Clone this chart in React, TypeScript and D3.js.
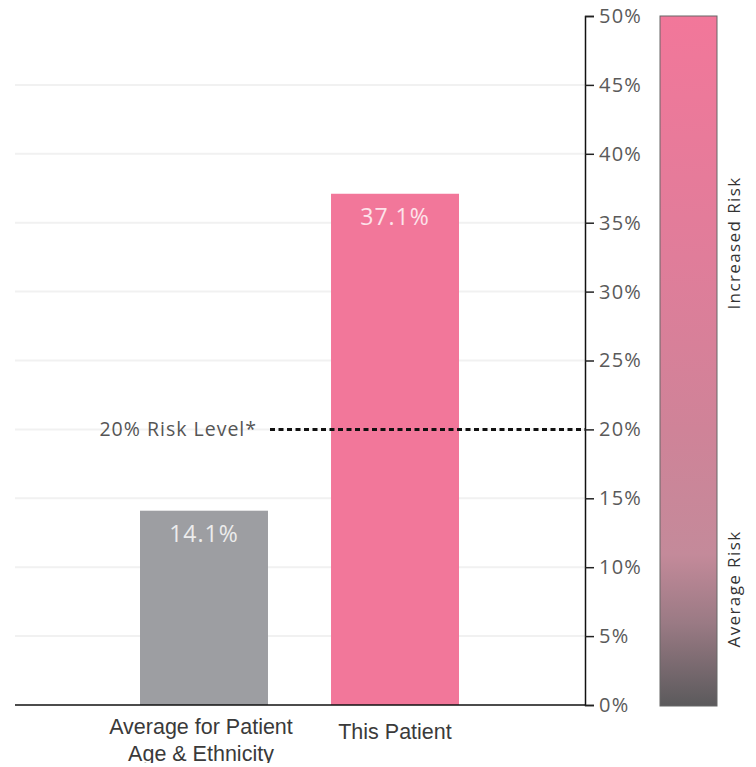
import React, { useRef, useEffect } from "react";
import * as d3 from "d3";

const categories = ["Average for Patient\nAge & Ethnicity", "This Patient"];
const values = [14.1, 37.1];
const valueLabels = ["14.1%", "37.1%"];
const barColors = ["#9d9ea2", "#f2779a"];
const yTicks = [0, 5, 10, 15, 20, 25, 30, 35, 40, 45, 50];
const riskLevel = 20;
const riskLabel = "20% Risk Level*";
const scaleLabels = ["Increased Risk", "Average Risk"];

const W = 756;
const H = 767;

export default function App() {
  const svgRef = useRef<SVGSVGElement>(null);

  useEffect(() => {
    const svg = d3.select(svgRef.current);
    svg.selectAll("*").remove();

    const plotLeft = 15;
    const axisX = 585;
    const y = d3.scaleLinear().domain([0, 50]).range([705, 16]);
    const x = d3
      .scaleBand()
      .domain(categories)
      .range([140, 459])
      .paddingInner(0.33)
      .paddingOuter(0);

    // gridlines
    svg
      .append("g")
      .selectAll("line")
      .data(yTicks.filter((t) => t > 0 && t < 50))
      .enter()
      .append("line")
      .attr("x1", plotLeft)
      .attr("x2", axisX)
      .attr("y1", (d) => y(d))
      .attr("y2", (d) => y(d))
      .attr("stroke", "#f1f1f1")
      .attr("stroke-width", 2);

    // bars
    svg
      .append("g")
      .selectAll("rect")
      .data(values)
      .enter()
      .append("rect")
      .attr("x", (_, i) => x(categories[i])!)
      .attr("width", x.bandwidth())
      .attr("y", (d) => y(d))
      .attr("height", (d) => y(0) - y(d))
      .attr("fill", (_, i) => barColors[i]);

    // value labels
    svg
      .append("g")
      .selectAll("text")
      .data(values)
      .enter()
      .append("text")
      .attr("x", (_, i) => x(categories[i])! + x.bandwidth() / 2)
      .attr("y", (d) => y(d) + 31)
      .attr("text-anchor", "middle")
      .attr("font-family", "'Open Sans', sans-serif")
      .attr("font-size", 23)
      .attr("letter-spacing", 1)
      .attr("fill", (_, i) => (i === 0 ? "#ececec" : "#fde3ea"))
      .text((_, i) => valueLabels[i]);

    // risk level line
    svg
      .append("line")
      .attr("x1", 270)
      .attr("x2", axisX)
      .attr("y1", y(riskLevel))
      .attr("y2", y(riskLevel))
      .attr("stroke", "#111")
      .attr("stroke-width", 3)
      .attr("stroke-dasharray", "5 3.5");

    svg
      .append("text")
      .attr("x", 257)
      .attr("y", y(riskLevel) + 7)
      .attr("text-anchor", "end")
      .attr("font-family", "'Open Sans', sans-serif")
      .attr("font-size", 19.5)
      .attr("letter-spacing", 1)
      .attr("fill", "#555")
      .text(riskLabel);

    // baseline
    svg
      .append("line")
      .attr("x1", plotLeft)
      .attr("x2", axisX)
      .attr("y1", y(0))
      .attr("y2", y(0))
      .attr("stroke", "#111")
      .attr("stroke-width", 1.5);

    // right axis
    const axis = svg
      .append("g")
      .attr("transform", `translate(${axisX},0)`)
      .call(
        d3
          .axisRight(y)
          .tickValues(yTicks)
          .tickSize(9)
          .tickPadding(5)
          .tickFormat((d) => `${d}%`)
      );
    axis.select(".domain").attr("stroke", "#111").attr("stroke-width", 1.5);
    axis.selectAll(".tick line").attr("stroke", "#222").attr("stroke-width", 1.5);
    axis
      .selectAll(".tick text")
      .attr("font-family", "'Open Sans', sans-serif")
      .attr("font-size", 20)
      .attr("letter-spacing", 1.2)
      .attr("fill", "#5a5a5a");

    // category labels
    categories.forEach((c) => {
      const lines = c.split("\n");
      const cx = x(c)! + x.bandwidth() / 2 - (lines.length > 1 ? 3 : 0);
      const t = svg
        .append("text")
        .attr("x", cx)
        .attr("y", lines.length > 1 ? 734 : 739)
        .attr("text-anchor", "middle")
        .attr("font-family", "'Liberation Sans', Arial, sans-serif")
        .attr("font-size", 21.5)
        .attr("fill", "#3a3a3a");
      lines.forEach((l, j) => {
        t.append("tspan")
          .attr("x", cx)
          .attr("dy", j === 0 ? 0 : 27)
          .text(l);
      });
    });

    // gradient scale bar
    const defs = svg.append("defs");
    const grad = defs
      .append("linearGradient")
      .attr("id", "riskGrad")
      .attr("x1", 0)
      .attr("x2", 0)
      .attr("y1", 0)
      .attr("y2", 1);
    const stops = [
      [0, "#f2779a"],
      [0.35, "#e07d9a"],
      [0.6, "#cf8398"],
      [0.78, "#c48a9a"],
      [0.88, "#9a7a84"],
      [1, "#5b5a5c"],
    ];
    stops.forEach(([o, c]) =>
      grad.append("stop").attr("offset", o as number).attr("stop-color", c as string)
    );
    svg
      .append("rect")
      .attr("x", 660)
      .attr("y", y(50))
      .attr("width", 57)
      .attr("height", y(0) - y(50) + 1)
      .attr("fill", "url(#riskGrad)")
      .attr("stroke", "#666")
      .attr("stroke-width", 1);

    const rot = [
      [scaleLabels[0], 243],
      [scaleLabels[1], 589],
    ];
    rot.forEach(([label, cy]) => {
      svg
        .append("text")
        .attr("transform", `translate(740,${cy}) rotate(-90)`)
        .attr("text-anchor", "middle")
        .attr("font-family", "'Open Sans', sans-serif")
        .attr("font-size", 17)
        .attr("letter-spacing", 1.4)
        .attr("fill", "#333")
        .text(label as string);
    });
  }, []);

  return (
    <div style={{ margin: -8 }}>
      <svg ref={svgRef} width={W} height={H} />
    </div>
  );
}
